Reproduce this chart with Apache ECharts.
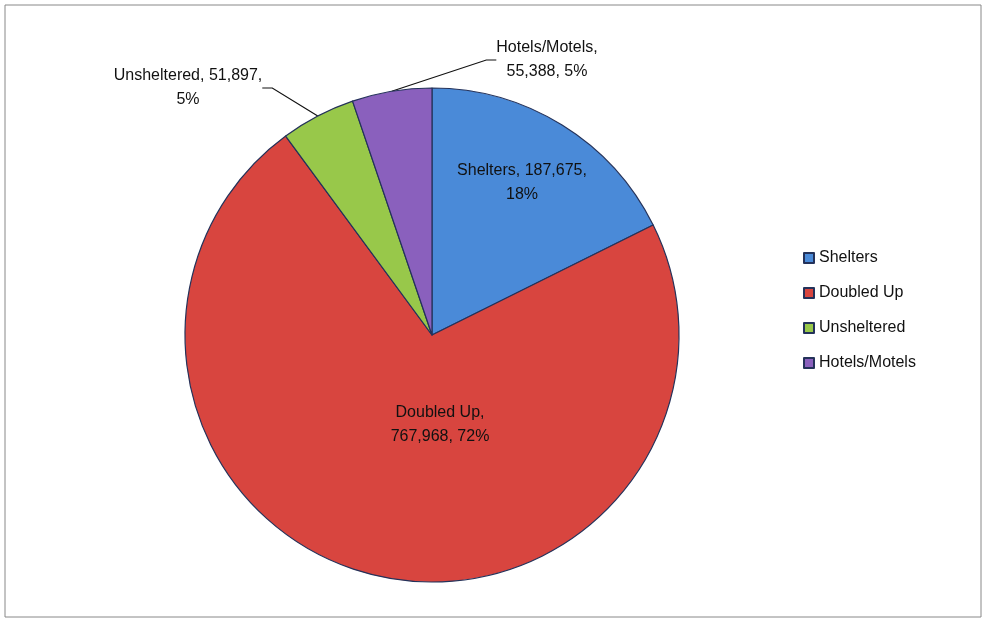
<!DOCTYPE html>
<html>
<head>
<meta charset="utf-8">
<script src="https://cdn.jsdelivr.net/npm/echarts@6/dist/echarts.min.js"></script>
<style>html,body{margin:0;padding:0;background:#fff}#main{width:988px;height:628px}</style>
</head>
<body>
<div id="main"></div>
<script>
var categories = ['Shelters', 'Doubled Up', 'Unsheltered', 'Hotels/Motels'];
var values = [187675, 767968, 51897, 55388];
var colors = ['#4a8ad8', '#d8453f', '#98c84a', '#8a60bd'];

var total = values.reduce(function (a, b) { return a + b; }, 0);
function fmt(n) { return n.toString().replace(/\B(?=(\d{3})+(?!\d))/g, ','); }

// label text: two lines like the original
var labelText = [
    function (c, p) { return 'Shelters, ' + c + ',\n' + p + '%'; },
    function (c, p) { return 'Doubled Up,\n' + c + ', ' + p + '%'; },
    function (c, p) { return 'Unsheltered, ' + c + ',\n' + p + '%'; },
    function (c, p) { return 'Hotels/Motels,\n' + c + ', ' + p + '%'; }
];
// where the labels sit
var labelPos = [[522, 183], [440, 425], [188, 88], [547, 60]];

var option = {
    backgroundColor: '#fff',
    animation: false,
    graphic: [{
        type: 'rect',
        shape: { x: 5, y: 5, width: 976, height: 612 },
        style: { fill: 'none', stroke: '#888', lineWidth: 1 }
    }],
    legend: {
        orient: 'vertical',
        left: 798,
        top: 245,
        itemGap: 19,
        itemWidth: 10,
        itemHeight: 10,
        icon: 'rect',
        textStyle: { fontFamily: 'Liberation Sans', fontSize: 16, color: '#111' },
        data: categories
    },
    series: [{
        type: 'pie',
        center: [432, 335],
        radius: 247,
        startAngle: 90,
        clockwise: true,
        itemStyle: { borderColor: '#24325a', borderWidth: 1.2 },
        labelLine: { show: true, length: 10, length2: 10, lineStyle: { color: '#111', width: 1.2 } },
        label: {
            fontFamily: 'Liberation Sans',
            fontSize: 16,
            color: '#111',
            lineHeight: 24,
            align: 'center',
            formatter: function (p) {
                var pct = Math.round(p.value / total * 100);
                return labelText[p.dataIndex](fmt(p.value), pct);
            }
        },
        labelLayout: function (p) {
            var pos = labelPos[p.dataIndex];
            return { x: pos[0], y: pos[1], align: 'center', verticalAlign: 'middle' };
        },
        data: categories.map(function (c, i) {
            return {
                name: c,
                value: values[i],
                itemStyle: { color: colors[i] },
                label: { position: i < 2 ? 'inside' : 'outside' },
                labelLine: { show: i >= 2 }
            };
        })
    }]
};

var myChart = echarts.init(document.getElementById('main'));
myChart.setOption(option);
</script>
</body>
</html>
